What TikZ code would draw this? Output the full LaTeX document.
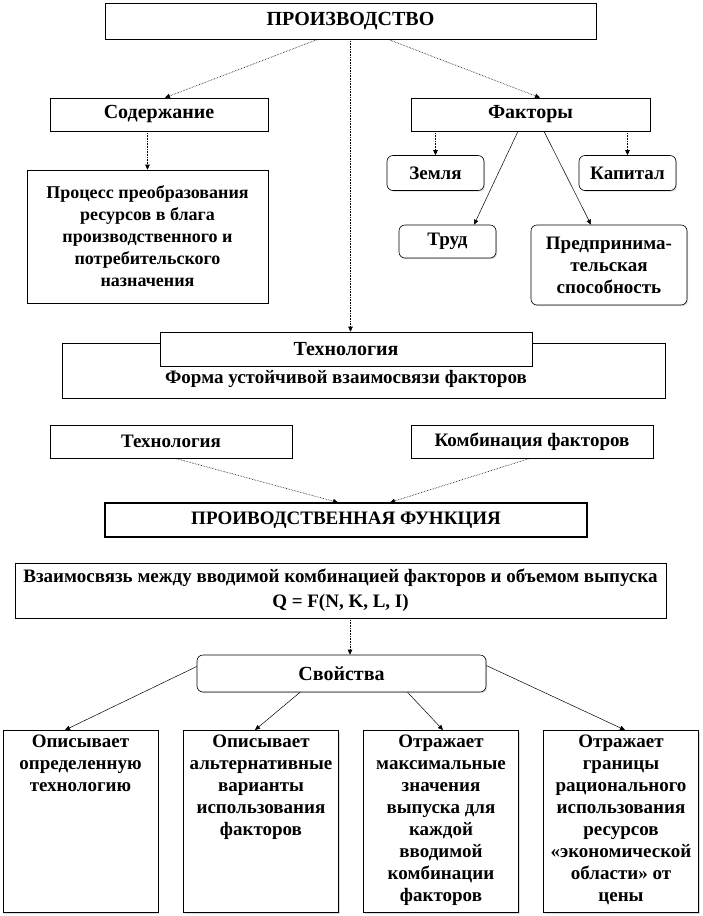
\documentclass[tikz,border=0pt]{standalone}
\usepackage{fontspec}
\setmainfont{Liberation Serif}
\usetikzlibrary{arrows.meta, positioning, shadows}
\tikzset{
  txt/.style={font=\bfseries\fontsize{19}{22}\selectfont, align=center},
  head/.style={font=\bfseries\fontsize{20}{22}\selectfont},
  box/.style={txt, draw=black, line width=0.6pt, fill=white, inner sep=2pt,
    drop shadow={shadow xshift=1.2pt, shadow yshift=-1.2pt, fill=gray!55}},
  roundbox/.style={box, rounded corners=6pt},
  link/.style={densely dotted, line width=0.6pt, -{Triangle[length=5pt,width=4.5pt]}},
  slink/.style={line width=0.5pt, -{Triangle[length=5pt,width=4.5pt]}}
}

\begin{document}
\begin{tikzpicture}[x=1pt, y=-1pt]
    \useasboundingbox (0,0) rectangle (702,916);
    % upper part
    \node[box, head, minimum width=491pt, minimum height=36pt] (prod) at (350.5,21) {ПРОИЗВОДСТВО};
    \node[box, head, minimum width=218pt, minimum height=33pt] (content) at (159,114.5) {Содержание};
    \node[box, head, minimum width=239pt, minimum height=33pt] (factors) at (530.5,114.5) {Факторы};
    \node[box, font=\bfseries\fontsize{18}{22}\selectfont, minimum width=241pt, minimum height=133pt] (process) at (147.5,236.5)
      {Процесс преобразования\\ ресурсов в блага\\ производственного и\\ потребительского\\ назначения};
    \node[roundbox, minimum width=97pt, minimum height=35pt] (land) at (435.5,173) {Земля};
    \node[roundbox, minimum width=97pt, minimum height=35pt] (capital) at (627.5,173) {Капитал};
    \node[roundbox, minimum width=97pt, minimum height=33pt] (labour) at (447.5,241.5) {Труд};
    \node[roundbox, minimum width=156pt, minimum height=80pt] (entre) at (609,265)
      {Предпринима-\\ тельская\\ способность};

    \draw[link] ([xshift=-32.5pt]prod.south) -- ([xshift=6pt]content.north);
    \draw[link] ([xshift=37.5pt]prod.south) -- ([xshift=9.5pt]factors.north);
    \draw[link] (process.north |- content.south) -- (process.north);
    \draw[link] (land.north |- factors.south) -- (land.north);
    \draw[link] (capital.north |- factors.south) -- (capital.north);
    \draw[slink] ([xshift=-12.5pt]factors.south) -- ([xshift=26.5pt]labour.north);
    \draw[slink] ([xshift=13.5pt]factors.south) -- ([xshift=-18pt]entre.north);

    % technology
    \node[box, minimum width=603pt, minimum height=55pt] (techframe) at (363.5,370.5) {};
    \node[box, head, drop shadow={opacity=0}, minimum width=372pt, minimum height=34pt] (tech) at (346,349) {Технология};
    \node[txt, below=0pt of tech] (techform) {Форма устойчивой взаимосвязи факторов};
    \draw[link] (prod.south) -- (prod.south |- tech.north);

    % production function
    \node[box, minimum width=242pt, minimum height=33pt] (tech2) at (171,441.5) {Технология};
    \node[box, minimum width=242pt, minimum height=33pt] (comb) at (532,441.5) {Комбинация факторов};
    \node[box, line width=1.1pt, minimum width=482pt, minimum height=34pt] (func) at (346,520)
      {ПРОИВОДСТВЕННАЯ ФУНКЦИЯ};
    \draw[link] ([xshift=4pt]tech2.south) -- ([xshift=-8pt]func.north);
    \draw[link] ([xshift=-2pt]comb.south) -- ([xshift=44pt]func.north);

    \node[box, minimum width=651pt, minimum height=55pt, font=\bfseries\fontsize{19}{25}\selectfont] (relation) at (340.5,590.5)
      {Взаимосвязь между вводимой комбинацией факторов и объемом выпуска\\ Q = F(N, K, L, I)};
    \node[roundbox, head, minimum width=289pt, minimum height=37pt] (props) at (341.5,673.5) {Свойства};
    \draw[link] ([xshift=9.5pt]relation.south) -- ([xshift=8.5pt]props.north);

    % properties
    \foreach \n/\cx/\t in {p1/80.5/{Описывает\\ определенную\\ технологию},
        p2/261/{Описывает\\ альтернативные\\ варианты\\ использования\\ факторов},
        p3/441/{Отражает\\ максимальные\\ значения\\ выпуска для\\ каждой\\ вводимой\\ комбинации\\ факторов},
        p4/621/{Отражает\\ границы\\ рационального\\ использования\\ ресурсов\\ «экономической\\ области» от\\ цены}}
      \node[box, anchor=north, minimum width=155pt, minimum height=182pt, inner sep=0pt] (\n) at (\cx,730)
        {\parbox[t][180pt][t]{153pt}{\centering\vspace{4pt}\t}};

    \draw[slink] ([yshift=7pt]props.west) -- ([xshift=-15.5pt]p1.north);
    \draw[slink] ([xshift=-41.5pt]props.south) -- ([xshift=-6pt]p2.north);
    \draw[slink] ([xshift=66pt]props.south) -- ([xshift=2pt]p3.north);
    \draw[slink] ([yshift=8pt]props.east) -- ([xshift=4pt]p4.north);
  \end{tikzpicture}
\end{document}
